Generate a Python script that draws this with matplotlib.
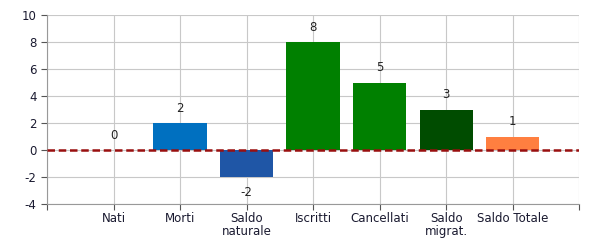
import matplotlib
matplotlib.use("Agg")
import matplotlib.pyplot as plt

plt.rcParams["axes.unicode_minus"] = False

# Data
categories = ["Nati", "Morti", "Saldo\nnaturale", "Iscritti", "Cancellati",
              "Saldo\nmigrat.", "Saldo Totale"]
values = [0, 2, -2, 8, 5, 3, 1]
colors = ["#0070C0", "#0070C0", "#1F56A6", "#008000", "#008000",
          "#004C00", "#FF7F40"]
y_ticks = [-4, -2, 0, 2, 4, 6, 8, 10]

fig = plt.figure(figsize=(6, 2.5), dpi=100)
ax = fig.add_axes([0.0783, 0.184, 0.887, 0.756])

x = list(range(len(categories)))
ax.bar(x, values, width=0.8, color=colors, zorder=2)

# Value labels above / below the bars (offsets in points, ~14px)
for xi, v in zip(x, values):
    offset = 10.5 if v >= 0 else -11
    ax.annotate(str(v), (xi, v), xytext=(0, offset), textcoords="offset points",
                ha="center", va="center", fontsize=8.5, color="#222222")

# Dashed zero line
ax.axhline(0, color="#990F0F", linestyle=(0, (3, 1.5)), linewidth=1.8, zorder=3)

ax.set_xlim(-1, len(categories))
ax.set_ylim(-4, 10)
ax.set_yticks(y_ticks)
ax.set_xticks(list(range(-1, len(categories) + 1)))
ax.set_xticklabels([""] + categories + [""], linespacing=1.0)
ax.tick_params(labelsize=8.5, colors="#555555", labelcolor="#1a1a30", length=4)
ax.tick_params(axis="x", pad=2)
ax.grid(True, color="#c8c8c8", linewidth=0.8, zorder=0)

for side in ["top", "right"]:
    ax.spines[side].set_visible(False)
for side in ["left", "bottom"]:
    ax.spines[side].set_color("#999999")

fig.savefig("out.png", dpi=100)
